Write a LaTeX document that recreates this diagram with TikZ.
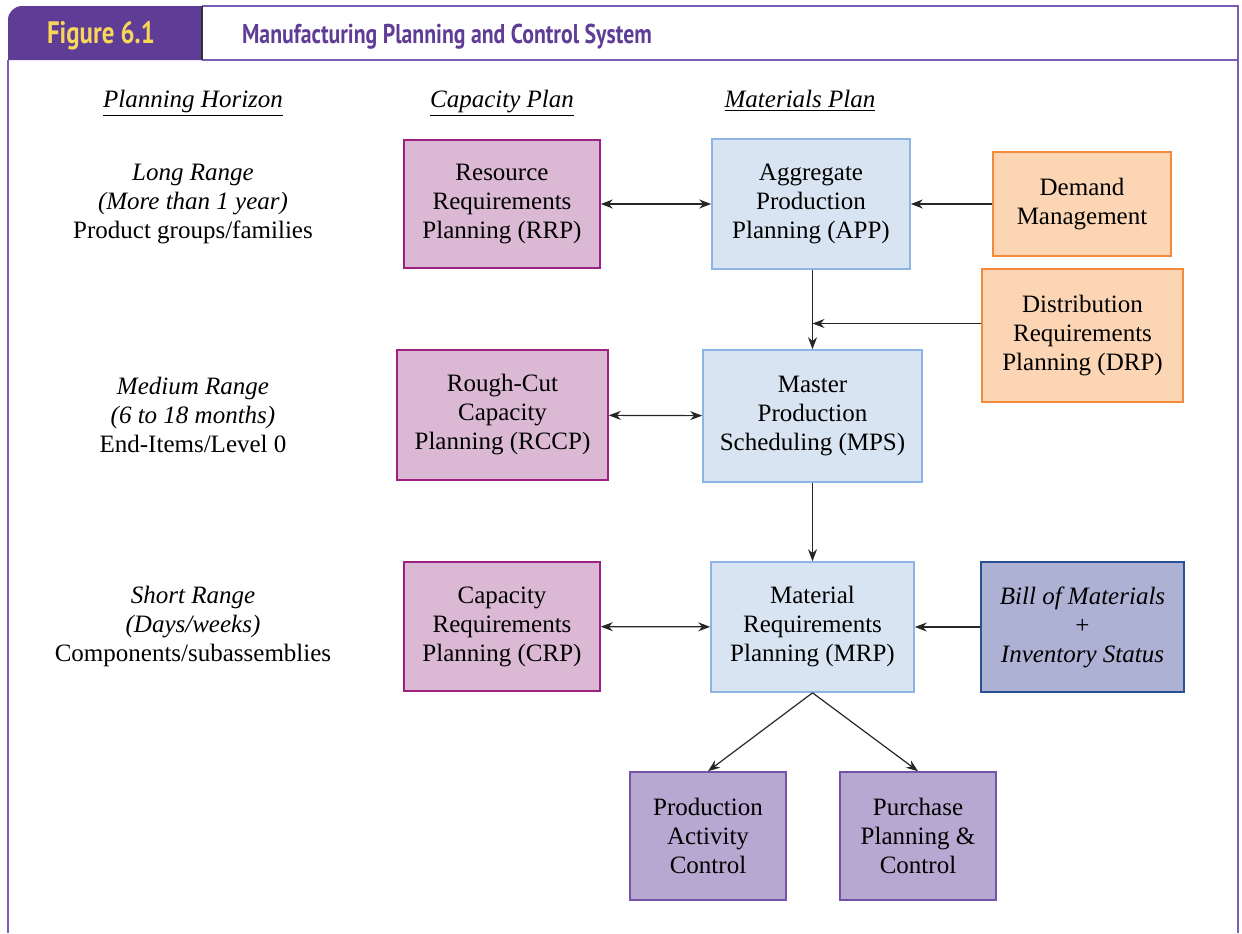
\documentclass[tikz,border=0pt]{standalone}
\usepackage{fontspec}
\setmainfont{Liberation Serif}
\newfontfamily\headfont[FakeStretch=0.8]{PT Sans}
\usetikzlibrary{arrows.meta,positioning}

\definecolor{frameviolet}{HTML}{7B5CB8}
\definecolor{tabviolet}{HTML}{5F3C96}
\definecolor{tabyellow}{HTML}{F8D65A}
\definecolor{capfill}{HTML}{DBB9D5}
\definecolor{capline}{HTML}{9C2180}
\definecolor{matfill}{HTML}{D9E4F2}
\definecolor{matline}{HTML}{8DB4E2}
\definecolor{extfill}{HTML}{FCD5B4}
\definecolor{extline}{HTML}{F5893B}
\definecolor{bomfill}{HTML}{ADB1D3}
\definecolor{bomline}{HTML}{2A5198}
\definecolor{shopfill}{HTML}{B6A8D0}
\definecolor{shopline}{HTML}{7452A8}

\begin{document}
\begin{tikzpicture}[x=0.5pt,y=-0.5pt,>={Stealth[length=6pt,width=4.5pt]},
  txt/.style={align=center,font=\fontsize{12.5}{14.5}\selectfont},
  box/.style={txt,draw,line width=0.8pt,inner sep=0pt},
  capbox/.style={box,fill=capfill,draw=capline},
  matbox/.style={box,fill=matfill,draw=matline},
  extbox/.style={box,fill=extfill,draw=extline},
  bombox/.style={box,fill=bomfill,draw=bomline},
  shopbox/.style={box,fill=shopfill,draw=shopline},
  link/.style={line width=0.6pt,draw=black!85}]
  \useasboundingbox (0,0) rectangle (1242,933);

  % Frame and title bar
  \fill[tabviolet] (8,60) [rounded corners=7pt] -- (8,6) [sharp corners] -- (202,6) -- (202,60) -- cycle;
  \draw[frameviolet,line width=1.2pt] (202,6) -- (1238,6) -- (1238,933);
  \draw[frameviolet,line width=1.2pt] (8,60) -- (8,933);
  \draw[frameviolet,line width=1pt] (202,60) -- (1238,60);
  \draw[black!80,line width=0.6pt] (202,6) -- (202,60);
  \node[font=\headfont\bfseries\fontsize{15.5}{18}\selectfont,text=tabyellow] (fig) at (101,36) {Figure 6.1};
  \node[font=\headfont\bfseries\fontsize{13.6}{16}\selectfont,text=tabviolet,anchor=west] (title) at (235,37) {Manufacturing Planning and Control System};

  % Column heads
  \node[txt,anchor=base] (horizon) at (193,107) {\underline{\textit{Planning Horizon}}};
  \node[txt,anchor=base] (capplan) at (502,107) {\underline{\textit{Capacity Plan}}};
  \node[txt,anchor=base] (matplan) at (800,107) {\underline{\textit{Materials Plan}}};

  % Planning horizons
  \node[txt] (longrange) at (193,204) {\textit{Long Range}\\\textit{(More than 1 year)}\\Product groups/families};
  \node[txt] (medrange) at (193,415) {\textit{Medium Range}\\\textit{(6 to 18 months)}\\End-Items/Level 0};
  \node[txt] (shortrange) at (193,626) {\textit{Short Range}\\\textit{(Days/weeks)}\\Components/subassemblies};

  % Boxes
  \node[capbox,minimum width=98pt,minimum height=64pt] (rrp) at (502,204) {Resource\\Requirements\\Planning (RRP)};
  \node[matbox,minimum width=99pt,minimum height=65pt] (app) at (811,204) {Aggregate\\Production\\Planning (APP)};
  \node[extbox,minimum width=89pt,minimum height=52pt] (dm) at (1082,204) {Demand\\Management};
  \node[extbox,minimum width=100.5pt,minimum height=66.5pt] (drp) at (1082.5,335.5) {Distribution\\Requirements\\Planning (DRP)};
  \node[capbox,minimum width=105.5pt,minimum height=65pt] (rccp) at (502.5,415) {Rough-Cut\\Capacity\\Planning (RCCP)};
  \node[matbox,minimum width=109.5pt,minimum height=66pt] (mps) at (812.5,416) {Master\\Production\\Scheduling (MPS)};
  \node[capbox,minimum width=98pt,minimum height=64.5pt] (crp) at (502,626.5) {Capacity\\Requirements\\Planning (CRP)};
  \node[matbox,minimum width=101.5pt,minimum height=65pt] (mrp) at (812.5,627) {Material\\Requirements\\Planning (MRP)};
  \node[bombox,minimum width=101.5pt,minimum height=65pt] (bom) at (1082.5,627) {\textit{Bill of Materials}\\+\\\textit{Inventory Status}};
  \node[shopbox,minimum width=78pt,minimum height=64pt] (pac) at (708,836) {Production\\Activity\\Control};
  \node[shopbox,minimum width=78pt,minimum height=64pt] (ppc) at (918,836) {Purchase\\Planning \&\\Control};

  % Connectors
  \coordinate (drpout) at ([yshift=6pt]drp.west);
  \draw[link,<->] (rrp) -- (app);
  \draw[link,->] (dm) -- (app);
  \draw[link,->] (mps.north |- app.south) -- (mps.north);
  \draw[link,->] (drpout) -- (drpout -| mps.north);
  \draw[link,<->] (rccp) -- (mps);
  \draw[link,->] (mps) -- (mrp);
  \draw[link,<->] (crp) -- (mrp);
  \draw[link,->] (bom) -- (mrp);
  \draw[link,->] (mrp.south) -- (pac.north);
  \draw[link,->] (mrp.south) -- (ppc.north);
\end{tikzpicture}
\end{document}
